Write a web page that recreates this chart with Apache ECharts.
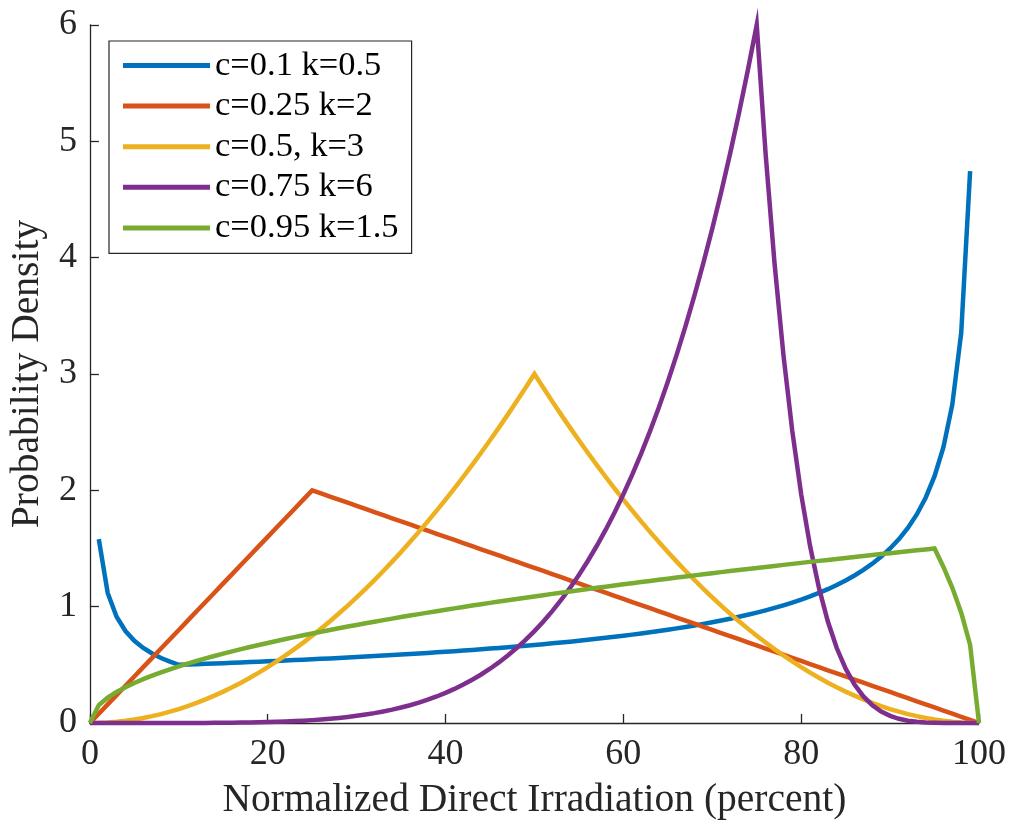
<!DOCTYPE html>
<html>
<head>
<meta charset="utf-8">
<script src="https://cdn.jsdelivr.net/npm/echarts@6/dist/echarts.min.js"></script>
<style>
html,body{margin:0;padding:0;background:#fff;}
#chart{width:1012px;height:827px;}
</style>
</head>
<body>
<div id="chart"></div>
<script>
// x positions (percent)
var xs = [0,1,2,3,4,5,6,7,8,9,10,11,12,13,14,15,16,17,18,19,20,21,22,23,24,25,26,27,28,29,30,31,32,33,34,35,36,37,38,39,40,41,42,43,44,45,46,47,48,49,50,51,52,53,54,55,56,57,58,59,60,61,62,63,64,65,66,67,68,69,70,71,72,73,74,75,76,77,78,79,80,81,82,83,84,85,86,87,88,89,90,91,92,93,94,95,96,97,98,99,100];

var seriesNames = ['c=0.1 k=0.5','c=0.25 k=2','c=0.5, k=3','c=0.75 k=6','c=0.95 k=1.5'];
var seriesColors = ['#0072BD','#D95319','#EDB120','#7E2F8E','#77AC30'];

var blue = [null,1.5811,1.1180,0.9129,0.7906,0.7071,0.6455,0.5976,0.5590,0.5270,0.5000,
0.5028,0.5057,0.5085,0.5115,0.5145,0.5175,0.5207,0.5238,0.5270,0.5303,
0.5337,0.5371,0.5406,0.5441,0.5477,0.5514,0.5552,0.5590,0.5629,0.5669,
0.5710,0.5752,0.5795,0.5839,0.5883,0.5929,0.5976,0.6024,0.6073,0.6124,
0.6175,0.6228,0.6283,0.6339,0.6396,0.6455,0.6516,0.6578,0.6642,0.6708,
0.6776,0.6847,0.6919,0.6994,0.7071,0.7151,0.7234,0.7319,0.7408,0.7500,
0.7596,0.7695,0.7798,0.7906,0.8018,0.8135,0.8257,0.8385,0.8519,0.8660,
0.8808,0.8964,0.9129,0.9303,0.9487,0.9682,0.9891,1.0113,1.0351,1.0607,
1.0882,1.1180,1.1504,1.1859,1.2247,1.2677,1.3156,1.3693,1.4302,1.5000,
1.5811,1.6771,1.7928,1.9365,2.1213,2.3717,2.7386,3.3541,4.7434,null];

var orange = [0,0.08,0.16,0.24,0.32,0.40,0.48,0.56,0.64,0.72,0.80,
0.88,0.96,1.04,1.12,1.20,1.28,1.36,1.44,1.52,1.60,
1.68,1.76,1.84,1.92,2.00,1.9733,1.9467,1.92,1.8933,1.8667,
1.84,1.8133,1.7867,1.76,1.7333,1.7067,1.68,1.6533,1.6267,1.60,
1.5733,1.5467,1.52,1.4933,1.4667,1.44,1.4133,1.3867,1.36,1.3333,
1.3067,1.28,1.2533,1.2267,1.20,1.1733,1.1467,1.12,1.0933,1.0667,
1.04,1.0133,0.9867,0.96,0.9333,0.9067,0.88,0.8533,0.8267,0.80,
0.7733,0.7467,0.72,0.6933,0.6667,0.64,0.6133,0.5867,0.56,0.5333,
0.5067,0.48,0.4533,0.4267,0.40,0.3733,0.3467,0.32,0.2933,0.2667,
0.24,0.2133,0.1867,0.16,0.1333,0.1067,0.08,0.0533,0.0267,0];

var yellow = [0,0.0012,0.0048,0.0108,0.0192,0.03,0.0432,0.0588,0.0768,0.0972,0.12,
0.1452,0.1728,0.2028,0.2352,0.27,0.3072,0.3468,0.3888,0.4332,0.48,
0.5292,0.5808,0.6348,0.6912,0.75,0.8112,0.8748,0.9408,1.0092,1.08,
1.1532,1.2288,1.3068,1.3872,1.47,1.5552,1.6428,1.7328,1.8252,1.92,
2.0172,2.1168,2.2188,2.3232,2.43,2.5392,2.6508,2.7648,2.8812,3,
2.8812,2.7648,2.6508,2.5392,2.43,2.3232,2.2188,2.1168,2.0172,1.92,
1.8252,1.7328,1.6428,1.5552,1.47,1.3872,1.3068,1.2288,1.1532,1.08,
1.0092,0.9408,0.8748,0.8112,0.75,0.6912,0.6348,0.5808,0.5292,0.48,
0.4332,0.3888,0.3468,0.3072,0.27,0.2352,0.2028,0.1728,0.1452,0.12,
0.0972,0.0768,0.0588,0.0432,0.03,0.0192,0.0108,0.0048,0.0012,0];

var purple = [0,0,0,0,0,0,0,0,0.0001,0.0001,0.0003,
0.0004,0.0006,0.0009,0.0014,0.0019,0.0027,0.0036,0.0048,0.0063,0.0081,
0.0103,0.0130,0.0163,0.0201,0.0247,0.0300,0.0363,0.0435,0.0519,0.0614,
0.0724,0.0848,0.0990,0.1149,0.1328,0.1529,0.1753,0.2003,0.2281,0.2589,
0.2929,0.3304,0.3717,0.4170,0.4666,0.5208,0.5799,0.6442,0.7142,0.7901,
0.8724,0.9613,1.0574,1.1610,1.2725,1.3925,1.5213,1.6595,1.8076,1.9661,
2.1355,2.3163,2.5093,2.7148,2.9337,3.1664,3.4137,3.6761,3.9545,4.2495,
4.5618,4.8922,5.2415,5.6105,6.0000,4.8922,3.9545,3.1664,2.5093,1.9661,
1.5213,1.1610,0.8724,0.6442,0.4666,0.3304,0.2281,0.1529,0.0990,0.0614,
0.0363,0.0201,0.0103,0.0048,0.0019,0.0006,0.0001,0,0,0];

var green = [0,0.1539,0.2176,0.2666,0.3078,0.3441,0.3770,0.4072,0.4353,0.4617,0.4867,
0.5104,0.5331,0.5549,0.5758,0.5960,0.6156,0.6345,0.6529,0.6708,0.6882,
0.7053,0.7218,0.7381,0.7539,0.7695,0.7847,0.7997,0.8143,0.8288,0.8429,
0.8569,0.8706,0.8841,0.8974,0.9105,0.9234,0.9361,0.9487,0.9611,0.9733,
0.9854,0.9974,1.0092,1.0208,1.0324,1.0438,1.0551,1.0662,1.0773,1.0882,
1.0990,1.1098,1.1204,1.1309,1.1413,1.1517,1.1619,1.1720,1.1821,1.1921,
1.2020,1.2118,1.2215,1.2312,1.2408,1.2503,1.2597,1.2691,1.2784,1.2876,
1.2968,1.3059,1.3149,1.3239,1.3328,1.3416,1.3504,1.3592,1.3679,1.3765,
1.3851,1.3936,1.4021,1.4105,1.4189,1.4272,1.4355,1.4437,1.4519,1.4600,
1.4681,1.4761,1.4841,1.4921,1.5000,1.3416,1.1619,0.9487,0.6708,0];

var xTicks = {min: 0, max: 100, interval: 20};
var yTicks = {min: 0, max: 6, interval: 1};

var FONT = 'Liberation Serif';
var INK = '#262626';
var allValues = [blue, orange, yellow, purple, green];

function pairs(vals) {
  return xs.map(function (x, i) { return [x, vals[i]]; });
}

var chart = echarts.init(document.getElementById('chart'), null, {renderer: 'canvas'});
chart.setOption({
  animation: false,
  backgroundColor: '#ffffff',
  textStyle: {fontFamily: FONT, color: INK},
  grid: {left: 86, right: 33, top: 25, bottom: 104, containLabel: false},
  legend: {
    orient: 'vertical',
    left: 109,
    top: 41,
    padding: [7, 13, 8, 14],
    itemGap: 5.6,
    itemWidth: 87,
    itemHeight: 5,
    icon: 'rect',
    borderColor: INK,
    borderWidth: 1.2,
    backgroundColor: '#ffffff',
    textStyle: {fontFamily: FONT, fontSize: 34.5, color: '#000000', lineHeight: 34},
    data: seriesNames
  },
  xAxis: {
    type: 'value',
    min: xTicks.min, max: xTicks.max, interval: xTicks.interval,
    name: 'Normalized Direct Irradiation (percent)',
    nameLocation: 'middle',
    nameGap: 58,
    nameTextStyle: {fontFamily: FONT, fontSize: 39.5, color: INK},
    axisLine: {show: true, onZero: false, lineStyle: {color: INK, width: 1.3}},
    axisTick: {show: true, inside: true, length: 9, lineStyle: {color: INK, width: 1.3}},
    axisLabel: {fontFamily: FONT, fontSize: 36, color: INK, margin: 14},
    splitLine: {show: false}
  },
  yAxis: {
    type: 'value',
    min: yTicks.min, max: yTicks.max, interval: yTicks.interval,
    name: 'Probability Density',
    nameLocation: 'middle',
    nameGap: 37,
    nameRotate: 90,
    nameTextStyle: {fontFamily: FONT, fontSize: 39.5, color: INK},
    axisLine: {show: true, onZero: false, lineStyle: {color: INK, width: 1.3}},
    axisTick: {show: true, inside: true, length: 9, lineStyle: {color: INK, width: 1.3}},
    axisLabel: {fontFamily: FONT, fontSize: 36, color: INK, margin: 13},
    splitLine: {show: false}
  },
  series: allValues.map(function (vals, k) {
    return {
      name: seriesNames[k],
      type: 'line',
      data: pairs(vals),
      showSymbol: false,
      symbol: 'none',
      connectNulls: false,
      clip: false,
      color: seriesColors[k],
      lineStyle: {width: 4.5, color: seriesColors[k], join: 'miter'},
      z: 2 + k
    };
  })
});
</script>
</body>
</html>
